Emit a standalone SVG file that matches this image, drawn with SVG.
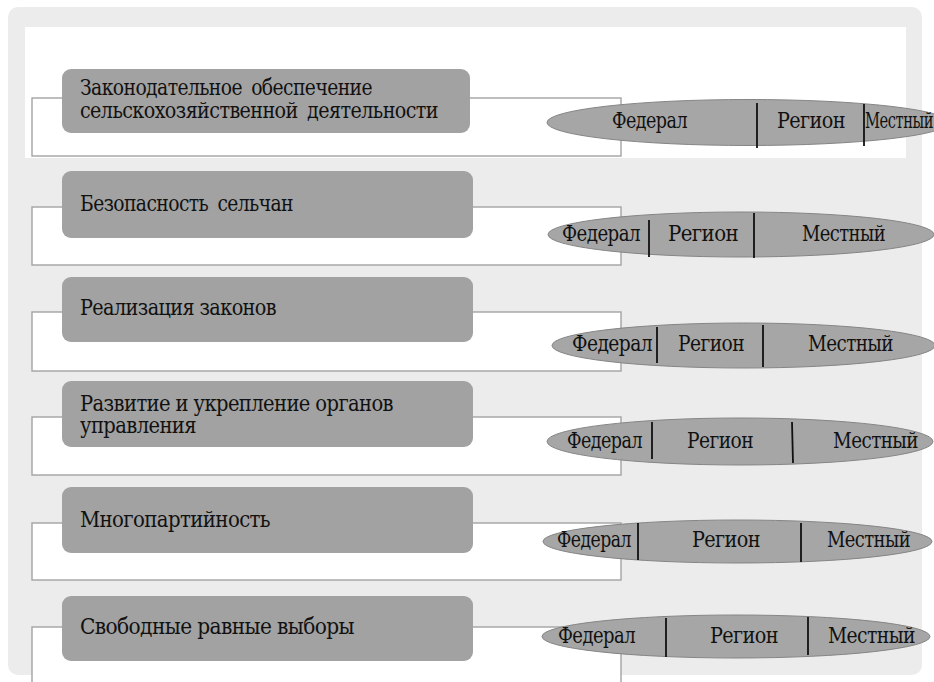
<svg xmlns="http://www.w3.org/2000/svg" width="934" height="682" viewBox="0 0 934 682">
<style>
.t{font-family:"DejaVu Serif","Liberation Serif",serif;font-size:19.5px;fill:#111111;letter-spacing:-0.6px}
.box{fill:#a2a2a2}
.frame{fill:#ffffff;stroke:#a3a3a3;stroke-width:1.4}
.ell{fill:#a6a6a6;stroke:#858585;stroke-width:1}
.div{stroke:#111111;stroke-width:1.8}
.ws{word-spacing:4px}
</style>
<rect x="0" y="0" width="934" height="682" fill="#ffffff"/>
<rect x="8" y="7" width="914" height="668" rx="10" fill="#ececec"/>
<rect x="25" y="27" width="881" height="131" fill="#ffffff"/>
<g id="connectors">
<rect class="frame" x="32" y="98" width="589" height="58"/>
<rect class="frame" x="32" y="207" width="589" height="58"/>
<rect class="frame" x="32" y="312" width="589" height="59"/>
<rect class="frame" x="32" y="417" width="589" height="58"/>
<rect class="frame" x="32" y="523" width="589" height="57"/>
<rect class="frame" x="32" y="627" width="589" height="80"/>
</g>
<g id="node1">
<rect class="box" x="62" y="69" width="408" height="64" rx="9"/>
<text class="t ws" transform="translate(80,95) scale(1,1.17)" textLength="292" lengthAdjust="spacingAndGlyphs">Законодательное обеспечение</text>
<text class="t ws" transform="translate(80,118) scale(1,1.17)" textLength="358" lengthAdjust="spacingAndGlyphs">сельскохозяйственной деятельности</text>
</g>
<g id="node2">
<rect class="box" x="62" y="171" width="411" height="67" rx="9"/>
<text class="t ws" transform="translate(80,211) scale(1,1.17)" textLength="213" lengthAdjust="spacingAndGlyphs">Безопасность сельчан</text>
</g>
<g id="node3">
<rect class="box" x="62" y="277" width="411" height="65" rx="9"/>
<text class="t" transform="translate(80,315) scale(1,1.17)" textLength="196" lengthAdjust="spacingAndGlyphs">Реализация законов</text>
</g>
<g id="node4">
<rect class="box" x="62" y="381" width="411" height="66" rx="9"/>
<text class="t" transform="translate(80,411) scale(1,1.17)" textLength="313" lengthAdjust="spacingAndGlyphs">Развитие и укрепление органов</text>
<text class="t" transform="translate(80,433) scale(1,1.17)" textLength="116" lengthAdjust="spacingAndGlyphs">управления</text>
</g>
<g id="node5">
<rect class="box" x="62" y="487" width="411" height="66" rx="9"/>
<text class="t" transform="translate(80,527) scale(1,1.17)" textLength="190" lengthAdjust="spacingAndGlyphs">Многопартийность</text>
</g>
<g id="node6">
<rect class="box" x="62" y="596" width="411" height="65" rx="9"/>
<text class="t" transform="translate(80,634) scale(1,1.17)" textLength="274" lengthAdjust="spacingAndGlyphs">Свободные равные выборы</text>
</g>
<g id="levels1">
<ellipse class="ell" cx="748" cy="122.5" rx="201" ry="23"/>
<line class="div" x1="757" y1="103" x2="757" y2="148"/>
<line class="div" x1="864" y1="104" x2="864" y2="146"/>
<text class="t" transform="translate(612,128) scale(1,1.17)" textLength="75" lengthAdjust="spacingAndGlyphs">Федерал</text>
<text class="t" transform="translate(777,128) scale(1,1.17)" textLength="68" lengthAdjust="spacingAndGlyphs">Регион</text>
<text class="t" transform="translate(865,128) scale(1,1.17)" textLength="68" lengthAdjust="spacingAndGlyphs">Местный</text>
</g>
<g id="levels2">
<ellipse class="ell" cx="741" cy="234.5" rx="193" ry="22.5"/>
<line class="div" x1="649" y1="220" x2="649" y2="257"/>
<line class="div" x1="754" y1="213" x2="754" y2="258"/>
<text class="t" transform="translate(562,241) scale(1,1.17)" textLength="78" lengthAdjust="spacingAndGlyphs">Федерал</text>
<text class="t" transform="translate(668,241) scale(1,1.17)" textLength="70" lengthAdjust="spacingAndGlyphs">Регион</text>
<text class="t" transform="translate(802,241) scale(1,1.17)" textLength="83" lengthAdjust="spacingAndGlyphs">Местный</text>
</g>
<g id="levels3">
<ellipse class="ell" cx="743.5" cy="345.5" rx="191.5" ry="22.5"/>
<line class="div" x1="657" y1="327" x2="657" y2="363"/>
<line class="div" x1="763" y1="325" x2="763" y2="367"/>
<text class="t" transform="translate(572,351) scale(1,1.17)" textLength="80" lengthAdjust="spacingAndGlyphs">Федерал</text>
<text class="t" transform="translate(678,351) scale(1,1.17)" textLength="66" lengthAdjust="spacingAndGlyphs">Регион</text>
<text class="t" transform="translate(808,351) scale(1,1.17)" textLength="85" lengthAdjust="spacingAndGlyphs">Местный</text>
</g>
<g id="levels4">
<ellipse class="ell" cx="740" cy="441.5" rx="193" ry="23.5"/>
<line class="div" x1="652" y1="422" x2="652" y2="459"/>
<line class="div" x1="792" y1="422" x2="793" y2="463"/>
<text class="t" transform="translate(567,448) scale(1,1.17)" textLength="75" lengthAdjust="spacingAndGlyphs">Федерал</text>
<text class="t" transform="translate(687,448) scale(1,1.17)" textLength="66" lengthAdjust="spacingAndGlyphs">Регион</text>
<text class="t" transform="translate(833,448) scale(1,1.17)" textLength="85" lengthAdjust="spacingAndGlyphs">Местный</text>
</g>
<g id="levels5">
<ellipse class="ell" cx="737.5" cy="541.5" rx="194.5" ry="21.5"/>
<line class="div" x1="638" y1="523" x2="638" y2="560"/>
<line class="div" x1="801" y1="523" x2="801" y2="562"/>
<text class="t" transform="translate(557,547) scale(1,1.17)" textLength="74" lengthAdjust="spacingAndGlyphs">Федерал</text>
<text class="t" transform="translate(692,547) scale(1,1.17)" textLength="68" lengthAdjust="spacingAndGlyphs">Регион</text>
<text class="t" transform="translate(827,547) scale(1,1.17)" textLength="83" lengthAdjust="spacingAndGlyphs">Местный</text>
</g>
<g id="levels6">
<ellipse class="ell" cx="736" cy="636.5" rx="194" ry="21.5"/>
<line class="div" x1="666" y1="618" x2="666" y2="657"/>
<line class="div" x1="808" y1="617" x2="808" y2="655"/>
<text class="t" transform="translate(558,643) scale(1,1.17)" textLength="77" lengthAdjust="spacingAndGlyphs">Федерал</text>
<text class="t" transform="translate(710,643) scale(1,1.17)" textLength="68" lengthAdjust="spacingAndGlyphs">Регион</text>
<text class="t" transform="translate(828,643) scale(1,1.17)" textLength="87" lengthAdjust="spacingAndGlyphs">Местный</text>
</g>
</svg>
